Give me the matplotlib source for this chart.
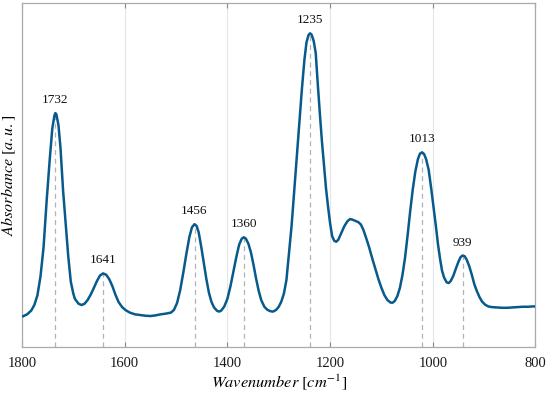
import matplotlib
matplotlib.use("Agg")
import matplotlib.pyplot as plt
import numpy as np

# Spectrum (wavenumber in cm^-1, absorbance in a.u.)
wavenumber = [1798.6, 1790, 1782, 1776, 1770, 1764, 1758, 1752, 1746, 1741,
              1737, 1735, 1733, 1729, 1725, 1720, 1715, 1710, 1705, 1700,
              1697, 1690, 1684, 1678, 1672, 1666, 1660, 1654, 1648, 1642,
              1636, 1630, 1624, 1618, 1612, 1605, 1598, 1590, 1580, 1570,
              1560, 1550, 1540, 1530, 1520, 1510, 1504, 1498, 1492, 1486,
              1480, 1474, 1469, 1464, 1460, 1456, 1451, 1446, 1441, 1436,
              1431, 1426, 1420, 1416, 1412, 1406, 1400, 1394, 1388, 1382,
              1377, 1372, 1368, 1364, 1359, 1354, 1349, 1344, 1339, 1334,
              1328, 1322, 1316, 1311, 1305, 1300, 1295, 1290, 1285, 1280,
              1275, 1270, 1265, 1260, 1255, 1250, 1246, 1242, 1239, 1236,
              1232, 1228, 1224, 1220, 1216, 1212, 1208, 1204, 1200, 1196,
              1192, 1188, 1184, 1178, 1172, 1166, 1161, 1156, 1150, 1145,
              1140, 1135, 1130, 1124, 1118, 1112, 1106, 1100, 1094, 1088,
              1082, 1078, 1074, 1069, 1064, 1059, 1054, 1049, 1044, 1039,
              1034, 1029, 1025, 1021, 1017, 1013, 1008, 1003, 998, 994,
              990, 986, 982, 978, 973, 969, 965, 960, 955, 950,
              946, 942, 938, 934, 929, 924, 919, 914, 909, 904,
              898, 892, 885, 875, 865, 855, 845, 835, 825, 815,
              805, 800]
absorbance = [0.089, 0.095, 0.106, 0.122, 0.150, 0.205, 0.290, 0.425, 0.545, 0.635,
              0.672, 0.680, 0.676, 0.645, 0.578, 0.455, 0.360, 0.265, 0.190, 0.155,
              0.140, 0.126, 0.122, 0.126, 0.137, 0.153, 0.172, 0.192, 0.208, 0.214,
              0.210, 0.197, 0.177, 0.152, 0.131, 0.116, 0.107, 0.100, 0.095, 0.093,
              0.091, 0.090, 0.092, 0.095, 0.097, 0.100, 0.108, 0.128, 0.165, 0.215,
              0.270, 0.320, 0.348, 0.357, 0.352, 0.334, 0.292, 0.245, 0.198, 0.158,
              0.131, 0.115, 0.105, 0.103, 0.106, 0.118, 0.140, 0.177, 0.222, 0.266,
              0.298, 0.315, 0.319, 0.315, 0.300, 0.274, 0.238, 0.198, 0.163, 0.136,
              0.117, 0.108, 0.104, 0.103, 0.108, 0.117, 0.132, 0.155, 0.195, 0.272,
              0.352, 0.450, 0.550, 0.650, 0.748, 0.835, 0.885, 0.907, 0.912, 0.908,
              0.890, 0.855, 0.765, 0.680, 0.600, 0.530, 0.462, 0.408, 0.360, 0.322,
              0.309, 0.306, 0.312, 0.332, 0.352, 0.366, 0.372, 0.370, 0.366, 0.363,
              0.356, 0.340, 0.318, 0.290, 0.258, 0.228, 0.198, 0.172, 0.150, 0.136,
              0.129, 0.129, 0.134, 0.148, 0.172, 0.210, 0.260, 0.325, 0.395, 0.458,
              0.510, 0.546, 0.562, 0.566, 0.561, 0.546, 0.515, 0.460, 0.400, 0.352,
              0.300, 0.258, 0.222, 0.202, 0.188, 0.186, 0.192, 0.207, 0.228, 0.248,
              0.261, 0.266, 0.264, 0.254, 0.235, 0.210, 0.182, 0.162, 0.145, 0.132,
              0.123, 0.118, 0.116, 0.115, 0.114, 0.114, 0.115, 0.116, 0.117, 0.117,
              0.118, 0.118]

peak_labels = ["1732", "1641", "1456", "1360", "1235", "1013", "939"]
peak_positions = [1735, 1642, 1464, 1368, 1239, 1021, 942]

x_ticks = [1800, 1600, 1400, 1200, 1000, 800]

plt.rcParams['mathtext.fontset'] = 'stix'
plt.rcParams['font.family'] = ['Liberation Serif', 'DejaVu Serif']

fig = plt.figure(figsize=(5.5, 3.96), dpi=100)
ax = fig.add_axes([0.04, 0.1237, 0.9336, 0.8687])

line_color = '#075a8c'
ax.plot(wavenumber, absorbance, color=line_color, lw=1.8, zorder=3,
        solid_joinstyle='round', solid_capstyle='round')

wn_sorted = wavenumber[::-1]
ab_sorted = absorbance[::-1]
for lab, px in zip(peak_labels, peak_positions):
    h = float(np.interp(px, wn_sorted, ab_sorted))
    ax.plot([px, px], [0, h], ls=(0, (4, 3)), color='#b3b3b3', lw=0.9, zorder=2)
    ax.annotate(lab, (px, h), xytext=(0, 5), textcoords='offset points',
                ha='center', va='bottom', fontsize=9.5, color='#111111')

ax.set_xlim(1800, 800)
ax.set_ylim(0, 1)
ax.set_xticks(x_ticks)
ax.set_yticks([])
ax.grid(axis='x', color='#e6e6e6', lw=0.8, zorder=0)
ax.tick_params(axis='x', direction='in', length=3.5, width=0.8, color='#888888',
               top=True, labelsize=10.5, pad=7, labelcolor='#1a1a1a')
for s in ax.spines.values():
    s.set_color('#aaaaaa')
    s.set_linewidth(0.9)

ax.set_xlabel(r'$\mathit{Wavenumber}\ [\mathit{cm}^{-1}]$', fontsize=11.8, labelpad=2)
ax.set_ylabel(r'$\mathit{Absorbance}\ [\mathit{a.u.}]$', fontsize=11.5, labelpad=3)

fig.savefig('out.png', dpi=100)
